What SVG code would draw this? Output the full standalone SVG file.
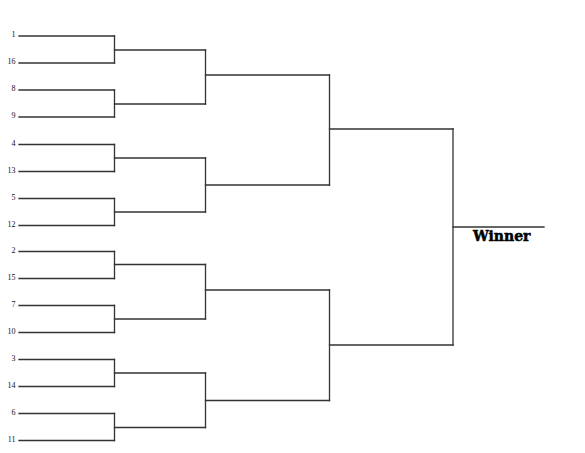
<svg xmlns="http://www.w3.org/2000/svg" width="585" height="453" viewBox="0 0 585 453">
<style>
.ln{fill:none;stroke:#333;stroke-width:1.3;stroke-linecap:square}
.seed{font-family:"Liberation Serif",serif;font-size:8px;fill:#111;text-anchor:end}
.win{font-family:"DejaVu Serif",serif;font-weight:bold;font-size:14px;fill:#000;stroke:#000;stroke-width:0.5}
</style>
<rect width="585" height="453" fill="#fff"/>
<g id="seeds">
<g id="s1"><text class="seed" x="15.5" y="37">1</text><path class="ln" d="M19 36H114.5"/></g>
<g id="s16"><text class="seed" x="15.5" y="64">16</text><path class="ln" d="M19 63H114.5"/></g>
<g id="s8"><text class="seed" x="15.5" y="91">8</text><path class="ln" d="M19 90H114.5"/></g>
<g id="s9"><text class="seed" x="15.5" y="118">9</text><path class="ln" d="M19 117H114.5"/></g>
<g id="s4"><text class="seed" x="15.5" y="145.5">4</text><path class="ln" d="M19 144.5H114.5"/></g>
<g id="s13"><text class="seed" x="15.5" y="172.5">13</text><path class="ln" d="M19 171.5H114.5"/></g>
<g id="s5"><text class="seed" x="15.5" y="199.5">5</text><path class="ln" d="M19 198.5H114.5"/></g>
<g id="s12"><text class="seed" x="15.5" y="226.5">12</text><path class="ln" d="M19 225.5H114.5"/></g>
<g id="s2"><text class="seed" x="15.5" y="252.5">2</text><path class="ln" d="M19 251.5H114.5"/></g>
<g id="s15"><text class="seed" x="15.5" y="279.5">15</text><path class="ln" d="M19 278.5H114.5"/></g>
<g id="s7"><text class="seed" x="15.5" y="306.5">7</text><path class="ln" d="M19 305.5H114.5"/></g>
<g id="s10"><text class="seed" x="15.5" y="333.5">10</text><path class="ln" d="M19 332.5H114.5"/></g>
<g id="s3"><text class="seed" x="15.5" y="360.5">3</text><path class="ln" d="M19 359.5H114.5"/></g>
<g id="s14"><text class="seed" x="15.5" y="387.5">14</text><path class="ln" d="M19 386.5H114.5"/></g>
<g id="s6"><text class="seed" x="15.5" y="414.5">6</text><path class="ln" d="M19 413.5H114.5"/></g>
<g id="s11"><text class="seed" x="15.5" y="441.5">11</text><path class="ln" d="M19 440.5H114.5"/></g>
</g>
<g id="connectors">
<path class="ln" d="M114.5 36V63M114.5 90V117M114.5 144.5V171.5M114.5 198.5V225.5M114.5 251.5V278.5M114.5 305.5V332.5M114.5 359.5V386.5M114.5 413.5V440.5"/>
<path class="ln" d="M114.5 50H205.5M114.5 104H205.5M114.5 158H205.5M114.5 212H205.5M114.5 264.5H205.5M114.5 319H205.5M114.5 373H205.5M114.5 427.5H205.5"/>
<path class="ln" d="M205.5 50V104M205.5 158V212M205.5 264.5V319M205.5 373V427.5"/>
<path class="ln" d="M205.5 75H329.5M205.5 185H329.5M205.5 290H329.5M205.5 400.5H329.5"/>
<path class="ln" d="M329.5 75V185M329.5 290V400.5"/>
<path class="ln" d="M329.5 129H453M329.5 345H453"/>
<path class="ln" d="M453 129V345"/>
</g>
<g id="winner">
<path class="ln" d="M453 227H544"/>
<text class="win" x="473" y="240.5">Winner</text>
</g>
</svg>
